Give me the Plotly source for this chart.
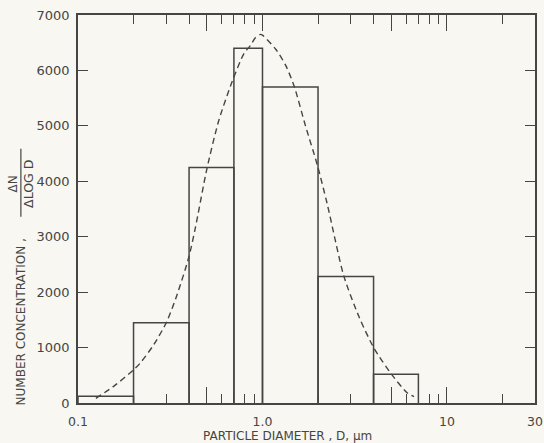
import plotly.graph_objects as go

# Size-distribution histogram: bin edges (um) and dN/dlogD per bin
bin_edges = [0.1, 0.2, 0.4, 0.7, 1.0, 2.0, 4.0, 7.0]
bin_conc = [120, 1450, 4250, 6400, 5700, 2280, 520]

# Fitted log-normal curve (dashed), sampled points
fit_diameter = [0.125, 0.156, 0.2, 0.217, 0.257, 0.303, 0.344, 0.398, 0.432,
                0.5, 0.58, 0.685, 0.792, 0.86, 0.915, 0.976, 1.0, 1.18, 1.34,
                1.49, 1.71, 1.98, 2.24, 2.76, 3.34, 4.02, 5.0, 6.1, 6.63]
fit_conc = [85, 300, 597, 717, 1049, 1470, 1950, 2620, 3150,
            4230, 5100, 5800, 6300, 6450, 6590, 6650, 6636, 6383, 6082,
            5700, 5000, 4300, 3600, 2290, 1550, 990, 520, 180, 114]

x_tickvals = [0.1, 0.5, 1.0, 5, 10, 30]
x_ticktext = ["0.1", "", "1.0", "", "10", "30"]
x_minor = [0.2, 0.3, 0.4, 0.6, 0.7, 0.8, 0.9, 2, 3, 4, 6, 7, 8, 9, 20]
y_tickvals = [0, 1000, 2000, 3000, 4000, 5000, 6000, 7000]

INK = "#454543"
PAPER = "#f8f7f1"
FONT = "DejaVu Sans"

# outline of each histogram bar, down to the axis
hx, hy = [], []
for lo, hi, h in zip(bin_edges[:-1], bin_edges[1:], bin_conc):
    hx += [lo, lo, hi, hi, None]
    hy += [0, h, h, 0, None]

fig = go.Figure()
fig.add_trace(go.Scatter(x=hx, y=hy, mode="lines",
                         line=dict(color=INK, width=1.5),
                         hoverinfo="skip", showlegend=False))
fig.add_trace(go.Scatter(x=fit_diameter, y=fit_conc, mode="lines",
                         line=dict(color=INK, width=1.4, dash="6px,4px",
                                   shape="spline", smoothing=0.7),
                         showlegend=False))

fig.update_xaxes(
    type="log", range=[-1, 1.4771], showgrid=False, zeroline=False,
    automargin=False,
    showline=True, linecolor=INK, linewidth=1.6, mirror="ticks",
    ticks="inside", ticklen=16, tickwidth=1.3, tickcolor=INK,
    tickmode="array", tickvals=x_tickvals, ticktext=x_ticktext,
    ticklabelstandoff=6,
    tickfont=dict(family=FONT, size=12.5, color=INK),
    minor=dict(ticks="inside", ticklen=9, tickwidth=1.3, tickcolor=INK,
               tickmode="array", tickvals=x_minor, showgrid=False),
)
fig.update_yaxes(
    range=[0, 7000], showgrid=False, zeroline=False,
    automargin=False,
    showline=True, linecolor=INK, linewidth=1.6, mirror="ticks",
    ticks="inside", ticklen=10, tickwidth=1.3, tickcolor=INK,
    tickmode="array", tickvals=y_tickvals, ticklabelstandoff=4,
    tickfont=dict(family=FONT, size=13, color=INK),
)

fig.add_annotation(text="PARTICLE DIAMETER , D, μm", xref="paper", yref="paper",
                   x=0.458, y=-0.085, xanchor="center", yanchor="middle",
                   showarrow=False, font=dict(family=FONT, size=12, color=INK))
fig.add_annotation(text="NUMBER CONCENTRATION ,", xref="paper", yref="paper",
                   x=-0.125, y=0.21, xanchor="center", yanchor="middle",
                   textangle=-90, showarrow=False,
                   font=dict(family=FONT, size=12, color=INK))
fig.add_annotation(text="ΔN", xref="paper", yref="paper",
                   x=-0.143, y=0.565, xanchor="center", yanchor="middle",
                   textangle=-90, showarrow=False,
                   font=dict(family=FONT, size=12, color=INK))
fig.add_annotation(text="ΔLOG D", xref="paper", yref="paper",
                   x=-0.107, y=0.565, xanchor="center", yanchor="middle",
                   textangle=-90, showarrow=False,
                   font=dict(family=FONT, size=12.5, color=INK))
fig.add_shape(type="line", xref="paper", yref="paper",
              x0=-0.125, x1=-0.125, y0=0.48, y1=0.655,
              line=dict(color=INK, width=1.2))

fig.update_layout(
    width=544, height=443, autosize=False,
    margin=dict(l=78, r=9, t=15, b=40),
    paper_bgcolor=PAPER, plot_bgcolor=PAPER,
)

fig.write_html("out.html")
